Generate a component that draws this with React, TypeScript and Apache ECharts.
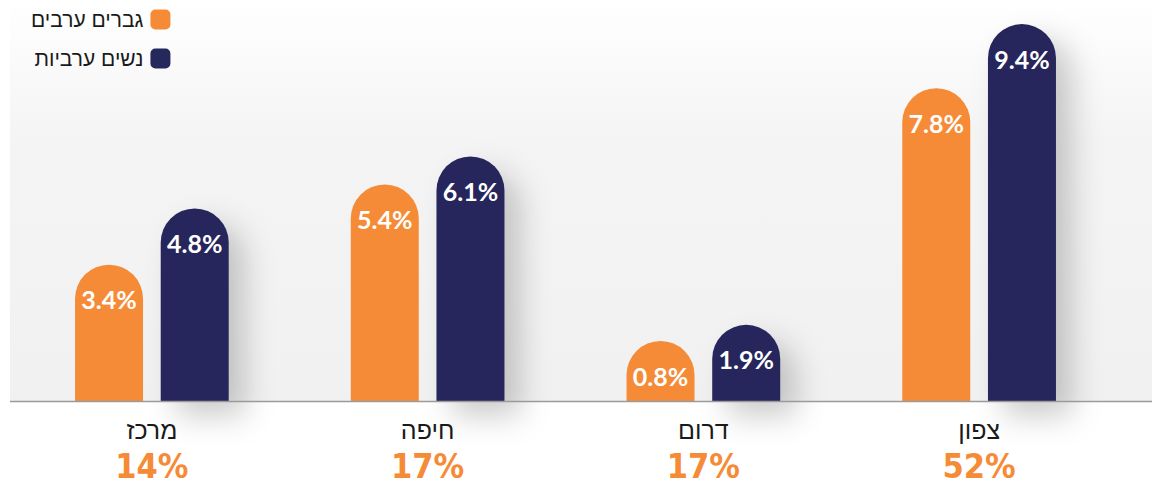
import React, { useEffect, useRef } from "react";
import * as echarts from "echarts";

const categories = ["מרכז", "חיפה", "דרום", "צפון"];
const categoryShares = ["14%", "17%", "17%", "52%"];
const seriesNames = ["גברים ערבים", "נשים ערביות"];
const menValues = [3.4, 5.4, 0.8, 7.8];
const womenValues = [4.8, 6.1, 1.9, 9.4];

const ORANGE = "#F68B37";
const NAVY = "#25285B";

export default function App() {
  const ref = useRef<HTMLDivElement>(null);
  useEffect(() => {
    if (!ref.current) return;
    const chart = echarts.init(ref.current, null, { renderer: "svg" });
    const labelCfg = {
      show: true,
      position: "insideTop",
      distance: 22,
      color: "#fff",
      fontSize: 25,
      fontWeight: "bold",
      fontFamily: "Lato, 'Open Sans', sans-serif",
      formatter: (p: any) => p.value + "%",
    };
    chart.setOption({
      animation: false,
      backgroundColor: "#ffffff",
      graphic: [
        {
          type: "rect",
          z: -10,
          silent: true,
          shape: { x: 10, y: 0, width: 1142, height: 401 },
          style: {
            fill: new echarts.graphic.LinearGradient(0, 0, 0, 1, [
              { offset: 0, color: "#ffffff" },
              { offset: 0.35, color: "#f4f4f4" },
              { offset: 1, color: "#f1f1f1" },
            ]),
          },
        },
        {
          type: "line",
          z: 100,
          silent: true,
          shape: { x1: 10, y1: 401.5, x2: 1152, y2: 401.5 },
          style: { stroke: "#9a9a9a", lineWidth: 1.5 },
        },
      ],
      legend: {
        orient: "vertical",
        left: 26,
        top: 4,
        align: "right",
        icon: "roundRect",
        itemWidth: 20,
        itemHeight: 20,
        itemGap: 18,
        textStyle: {
          fontSize: 21,
          color: "#1a1a1a",
          fontFamily: "'Liberation Sans', Arial, sans-serif",
          padding: [0, 2, 0, 0],
        },
        data: seriesNames,
      },
      grid: { left: 14, right: 35, top: 0, bottom: 87, containLabel: false },
      xAxis: {
        type: "category",
        data: categories,
        axisLine: { show: false },
        axisTick: { show: false },
        axisLabel: {
          margin: 14,
          interval: 0,
          formatter: (v: string, i: number) =>
            "{name|" + v + "}\n{pct|" + categoryShares[i] + "}",
          rich: {
            name: {
              fontSize: 25,
              lineHeight: 30,
              color: "#1a1a1a",
              fontFamily: "'Liberation Sans', Arial, sans-serif",
            },
            pct: {
              fontSize: 34,
              lineHeight: 42,
              fontWeight: "bold",
              color: ORANGE,
              fontFamily: "'DejaVu Sans Condensed', 'DejaVu Sans', sans-serif",
            },
          },
        },
      },
      yAxis: {
        type: "value",
        min: 0,
        max: 10,
        show: false,
        splitLine: { show: false },
      },
      series: [
        {
          name: seriesNames[0],
          type: "bar",
          data: menValues,
          barWidth: 68,
          barGap: "26%",
          barMinHeight: 60,
          itemStyle: { color: ORANGE, borderRadius: [34, 34, 0, 0] },
          label: labelCfg,
        },
        {
          name: seriesNames[1],
          type: "bar",
          data: womenValues,
          barWidth: 68,
          barGap: "26%",
          barMinHeight: 60,
          itemStyle: {
            color: NAVY,
            borderRadius: [34, 34, 0, 0],
            shadowColor: "rgba(0,0,0,0.2)",
            shadowBlur: 30,
            shadowOffsetX: 16,
            shadowOffsetY: 15,
          },
          label: labelCfg,
        },
      ],
    });
    return () => chart.dispose();
  }, []);
  return (
    <div
      ref={ref}
      style={{ position: "fixed", left: 0, top: 0, width: 1152, height: 488 }}
    />
  );
}
